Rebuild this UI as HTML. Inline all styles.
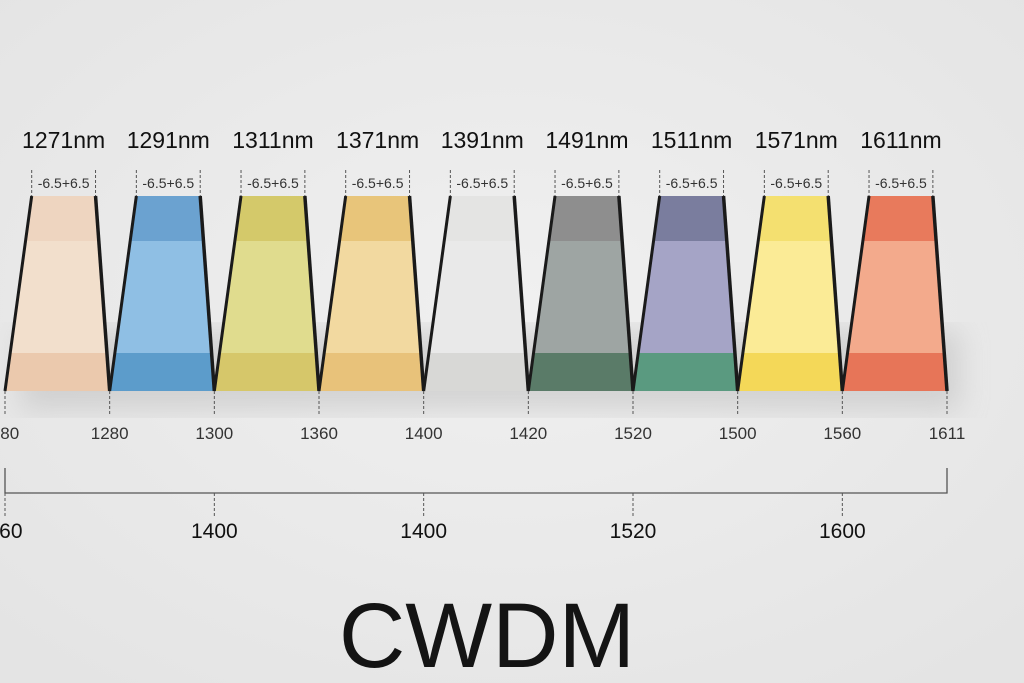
<!DOCTYPE html>
<html><head><meta charset="utf-8"><style>
html,body{margin:0;padding:0;background:#ececec;}
svg{display:block;font-family:"Liberation Sans",sans-serif;}
</style></head><body>
<svg id="c" width="1024" height="683" viewBox="0 0 1024 683">
<defs>
<radialGradient id="bg" cx="0.5" cy="0.45" r="0.7"><stop offset="0" stop-color="#f0f0f0"/><stop offset="1" stop-color="#e4e4e4"/></radialGradient>
<filter id="blur"><feGaussianBlur stdDeviation="14"/></filter>
</defs>
<rect width="1024" height="683" fill="url(#bg)"/>
<rect x="20" y="330" width="940" height="80" fill="#bdbdbd" opacity="0.55" filter="url(#blur)"/>
<g id="marks"></g>
<text x="487" y="667" font-size="92" text-anchor="middle" fill="#141414">CWDM</text>
</svg>
<script>
const channels=["1271nm","1291nm","1311nm","1371nm","1391nm","1491nm","1511nm","1571nm","1611nm"];
const edgeLabels=["280","1280","1300","1360","1400","1420","1520","1500","1560","1611"];
const scaleLabels=["260","1400","1400","1520","1600"];
const tolerance=["-6.5+6.5","-6.5+6.5","-6.5+6.5","-6.5+6.5","-6.5+6.5","-6.5+6.5","-6.5+6.5","-6.5+6.5","-6.5+6.5"];
const colors=[["#eed5c0","#f2dfcc","#ebc9ad"],["#6ba2d0","#8fbfe4","#5c9ccb"],["#d4c96a","#e0dc8e","#d6c76a"],["#e8c57a","#f2d9a0","#e8c27a"],["#e4e4e3","#e9e9e9","#d8d8d6"],["#8e8e8e","#9ea5a3","#5a7b68"],["#7a7d9e","#a5a4c6","#5a9a80"],["#f4e070","#fbeb96","#f4d858"],["#e87a5c","#f3aa8c","#e77558"]];
const NS="http://www.w3.org/2000/svg";
const g=document.getElementById('marks');
const x0=5,x1=947;
const step=(x1-x0)/channels.length;
const xe=i=>x0+i*step;
const yTop=196,yB1=241,yB2=353,yBot=391;
function mk(t,a){const e=document.createElementNS(NS,t);for(const k in a)e.setAttribute(k,a[k]);g.appendChild(e);return e;}
const inL=0.255*step,inR=0.135*step;
function xAt(xa,xb,y){return xa+(xb-xa)*(yBot-y)/(yBot-yTop);}
channels.forEach((c,i)=>{
  const bl=xe(i),br=xe(i+1),tl=bl+inL,tr=br-inR;
  const bands=[[yTop,yB1],[yB1,yB2],[yB2,yBot]];
  bands.forEach((b,j)=>{
    const p=`${xAt(bl,tl,b[0])},${b[0]} ${br+(tr-br)*(yBot-b[0])/(yBot-yTop)},${b[0]} ${br+(tr-br)*(yBot-b[1])/(yBot-yTop)},${b[1]} ${xAt(bl,tl,b[1])},${b[1]}`;
    const e=mk('polygon',{points:p,fill:colors[i][j]});
    
    
  });
  const l1=mk('line',{x1:bl,y1:yBot,x2:tl,y2:yTop,stroke:'#1a1a1a','stroke-width':3});
  
  
  const l2=mk('line',{x1:br,y1:yBot,x2:tr,y2:yTop,stroke:'#1a1a1a','stroke-width':3.5});
  
  
  [tl,tr].forEach(x=>{const d=mk('line',{x1:x,y1:170,x2:x,y2:yTop,stroke:'#555','stroke-width':1,'stroke-dasharray':'3,2'});
    
    });
  const t=mk('text',{x:(tl+tr)/2,y:188,'font-size':14,'text-anchor':'middle',fill:'#333'});
  t.textContent=tolerance[i];
  
  
  const n=mk('text',{x:(tl+tr)/2,y:148,'font-size':23,'text-anchor':'middle',fill:'#111'});
  n.textContent=c;
  
  
});
edgeLabels.forEach((l,i)=>{
  const x=xe(i);
  const d=mk('line',{x1:x,y1:yBot,x2:x,y2:415,stroke:'#555','stroke-width':1,'stroke-dasharray':'3,2'});
  
  
  const t=mk('text',{x:x,y:439,'font-size':17,'text-anchor':'middle',fill:'#333'});
  t.textContent=l;
  
  
});
const br=mk('path',{d:`M${x0},468 V493 H${x1} V468`,fill:'none',stroke:'#555','stroke-width':1.3});


scaleLabels.forEach((l,i)=>{
  const x=x0+i*(x1-x0)/4.5;
  const d=mk('line',{x1:x,y1:493,x2:x,y2:516,stroke:'#555','stroke-width':1,'stroke-dasharray':'3,2'});
  
  
  const t=mk('text',{x:x,y:538,'font-size':21,'text-anchor':'middle',fill:'#111'});
  t.textContent=l;
  
  
});
</script>
</body></html>
